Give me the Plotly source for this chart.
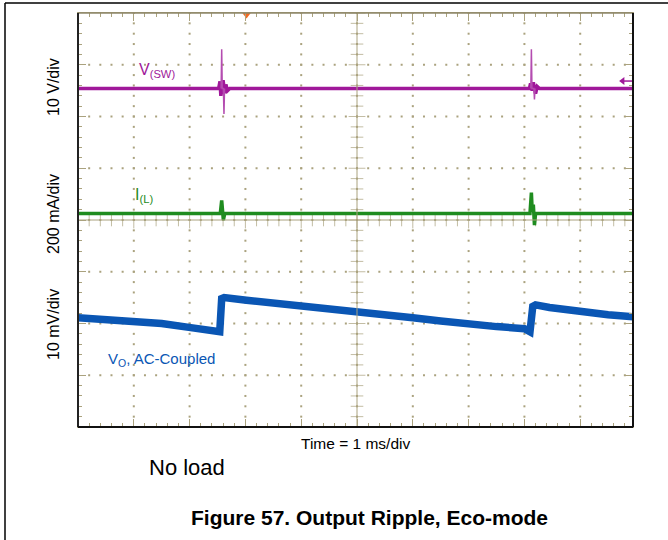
import plotly.graph_objects as go
import numpy as np

# ---------------- data (time in ms, 1 ms/div; values in screen divisions) ----------------
# V(SW) 10 V/div
vsw_t = [0.0, 2.52, 2.545, 2.56, 2.585, 2.60, 2.63, 2.65, 2.68, 2.72, 8.09, 8.11, 8.14, 8.16, 8.20, 8.23, 8.27, 9.946]
vsw_v = [2.54, 2.54, 2.68, 2.40, 2.56, 2.70, 2.45, 2.62, 2.50, 2.54, 2.54, 2.64, 2.50, 2.66, 2.44, 2.58, 2.54, 2.54]
vsw_spike_t = [2.565, 2.575, 2.585, 2.605, 2.616, 2.626]
vsw_spike_v = [2.54, 3.30, 2.54, 2.54, 2.05, 2.54]
vsw_spike2_t = [8.115, 8.125, 8.135, 8.17, 8.18, 8.19]
vsw_spike2_v = [2.54, 3.30, 2.54, 2.54, 2.33, 2.54]

# I(L) 200 mA/div
il_t = [0.0, 2.55, 2.575, 2.59, 2.605, 2.63, 8.10, 8.125, 8.14, 8.16, 8.18, 8.20, 9.946]
il_v = [0.126, 0.126, 0.38, 0.13, -0.004, 0.126, 0.126, 0.53, 0.16, 0.30, -0.10, 0.126, 0.126]

# V(O) AC-coupled 10 mV/div
vo_t = [0.0, 0.5, 1.016, 1.5, 2.02, 2.3, 2.54, 2.575, 2.62, 3.02, 3.5, 4.03, 4.69, 5.01, 5.5, 6.0, 6.5, 7.0, 7.5, 8.0, 8.10, 8.15, 8.20, 8.45, 8.99, 9.5, 9.946]
vo_v = [-1.89, -1.93, -1.97, -2.00, -2.08, -2.12, -2.16, -1.52, -1.50, -1.55, -1.60, -1.67, -1.73, -1.78, -1.83, -1.89, -1.95, -2.02, -2.06, -2.10, -2.16, -1.67, -1.64, -1.69, -1.78, -1.83, -1.87]

# markers
trigger_t = [3.02]
ground_t = [9.76]
ground_v = [2.685]

# labels
ylabels = ["10 V/div", "200 mA/div", "10 mV/div"]
xlabel = "Time = 1 ms/div"
note = "No load"
caption = "Figure 57. Output Ripple, Eco-mode"

# ---------------- style ----------------
GRID = "#aaa27e"
PURPLE = "#a0189a"
GREEN = "#1f8c1f"
BLUE = "#0a56b4"
FONT = "Liberation Sans, Arial, sans-serif"

W, H = 668, 540
L, R, T, B = 78, 35, 13, 113
XMAX = 9.946

def px(x):
    return (x - L) / (W - L - R)

def py(y):
    return (H - B - y) / (H - T - B)

fig = go.Figure()

# dotted grid
gx, gy = [], []
for xv in range(1, 10):
    for k in range(0, 41):
        gx.append(xv); gy.append(-4 + 0.2 * k)
for yv in range(-3, 4):
    for k in range(0, 50):
        gx.append(0.2 * k); gy.append(yv)
fig.add_trace(go.Scatter(x=gx, y=gy, mode="markers",
                         marker=dict(symbol="square", size=2, color=GRID, line=dict(width=0)),
                         hoverinfo="skip", showlegend=False))

# center axis cross ticks
cy = [round(-4 + 0.2 * k, 2) for k in range(41)]
cx = [round(0.2 * k, 2) for k in range(50)]
fig.add_trace(go.Scatter(x=[5] * len(cy), y=cy, mode="markers",
                         marker=dict(symbol="line-ew", size=[12 if abs(v - round(v)) < 1e-6 else 9 for v in cy],
                                     line=dict(width=1, color=GRID)),
                         hoverinfo="skip", showlegend=False))
fig.add_trace(go.Scatter(x=cx, y=[0] * len(cx), mode="markers",
                         marker=dict(symbol="line-ns", size=[12 if abs(v - round(v)) < 1e-6 else 9 for v in cx],
                                     line=dict(width=1, color=GRID)),
                         hoverinfo="skip", showlegend=False))

# traces
fig.add_trace(go.Scatter(x=vsw_t, y=vsw_v, mode="lines", line=dict(color=PURPLE, width=3.5),
                         hoverinfo="skip", showlegend=False))
for tt, vv in [(vsw_spike_t, vsw_spike_v), (vsw_spike2_t, vsw_spike2_v)]:
    fig.add_trace(go.Scatter(x=tt, y=vv, mode="lines", line=dict(color="#b44cb0", width=1.5),
                             hoverinfo="skip", showlegend=False))
fig.add_trace(go.Scatter(x=il_t, y=il_v, mode="lines", line=dict(color=GREEN, width=3.5),
                         hoverinfo="skip", showlegend=False))
fig.add_trace(go.Scatter(x=vo_t, y=vo_v, mode="lines", line=dict(color=BLUE, width=7.5),
                         hoverinfo="skip", showlegend=False))

# ground level arrow for channel 1
fig.add_trace(go.Scatter(x=[ground_t[0], XMAX], y=[ground_v[0], ground_v[0]], mode="lines",
                         line=dict(color=PURPLE, width=1.5), hoverinfo="skip", showlegend=False))
fig.add_trace(go.Scatter(x=ground_t, y=ground_v, mode="markers",
                         marker=dict(symbol="triangle-left", size=7, color=PURPLE),
                         hoverinfo="skip", showlegend=False))
# trigger position marker
fig.add_trace(go.Scatter(x=trigger_t, y=[4.0], mode="markers",
                         marker=dict(symbol="triangle-down", size=11, color="#f26a22"),
                         hoverinfo="skip", showlegend=False, cliponaxis=True))

# borders and center axes
shapes = [
    dict(type="line", xref="x", yref="y", x0=5, x1=5, y0=-4, y1=4, line=dict(color=GRID, width=1)),
    dict(type="line", xref="x", yref="y", x0=0, x1=XMAX, y0=0, y1=0, line=dict(color=GRID, width=1)),
    dict(type="line", xref="paper", yref="paper", x0=0, x1=1, y0=1, y1=1, line=dict(color="#8c8668", width=1.5)),
    dict(type="line", xref="paper", yref="paper", x0=0, x1=0, y0=0, y1=1, line=dict(color="#222222", width=2)),
    dict(type="line", xref="paper", yref="paper", x0=1, x1=1, y0=0, y1=1, line=dict(color="#111111", width=2)),
    dict(type="line", xref="paper", yref="paper", x0=0, x1=1, y0=0, y1=0, line=dict(color="#111111", width=2)),
    # outer page frame
    dict(type="line", xref="paper", yref="paper", x0=px(5), x1=px(668), y0=py(3), y1=py(3), line=dict(color="black", width=1.5)),
    dict(type="line", xref="paper", yref="paper", x0=px(5), x1=px(5), y0=py(3), y1=py(540), line=dict(color="black", width=1.5)),
]
for s in shapes:
    s["layer"] = "above"

annotations = [
    dict(text=ylabels[0], x=px(53), y=py(87), textangle=-90),
    dict(text=ylabels[1], x=px(53), y=py(214), textangle=-90),
    dict(text=ylabels[2], x=px(53), y=py(325), textangle=-90),
]
for a in annotations:
    a.update(xref="paper", yref="paper", showarrow=False, xanchor="center", yanchor="middle",
             font=dict(family=FONT, size=16, color="black"))

annotations += [
    dict(text="V<sub>(SW)</sub>", x=px(137), y=py(71), xanchor="left", yanchor="middle",
         font=dict(family=FONT, size=16, color=PURPLE)),
    dict(text="I<sub>(L)</sub>", x=px(133), y=py(196), xanchor="left", yanchor="middle",
         font=dict(family=FONT, size=16, color=GREEN)),
    dict(text="V<sub>O</sub>, AC-Coupled", x=px(106), y=py(359), xanchor="left", yanchor="middle",
         font=dict(family=FONT, size=15, color=BLUE)),
    dict(text=xlabel, x=px(355), y=py(443), xanchor="center", yanchor="middle",
         font=dict(family=FONT, size=15.5, color="black")),
    dict(text=note, x=px(147), y=py(467), xanchor="left", yanchor="middle",
         font=dict(family=FONT, size=22, color="black")),
    dict(text="<b>" + caption + "</b>", x=px(369), y=py(517), xanchor="center", yanchor="middle",
         font=dict(family=FONT, size=21, color="black")),
]
for a in annotations[3:]:
    a.update(xref="paper", yref="paper", showarrow=False)

axis_common = dict(showgrid=False, zeroline=False, showticklabels=False, showline=True,
                   linecolor=GRID, linewidth=1, mirror="ticks", ticks="inside",
                   tickcolor=GRID, tickwidth=1, fixedrange=True)

fig.update_layout(
    width=W, height=H,
    margin=dict(l=L, r=R, t=T, b=B),
    paper_bgcolor="white", plot_bgcolor="white",
    xaxis=dict(range=[0, XMAX], tick0=0, dtick=1, ticklen=8,
               minor=dict(tick0=0, dtick=0.2, ticklen=4, ticks="inside", tickcolor=GRID, tickwidth=1),
               **axis_common),
    yaxis=dict(range=[-4, 4], tick0=0, dtick=1, ticklen=8,
               minor=dict(tick0=0, dtick=0.2, ticklen=4, ticks="inside", tickcolor=GRID, tickwidth=1),
               **axis_common),
    shapes=shapes,
    annotations=annotations,
    showlegend=False,
)

fig.write_html("out.html", config={"displayModeBar": False},
               post_script="document.body.style.margin='0';document.body.style.padding='0';")
